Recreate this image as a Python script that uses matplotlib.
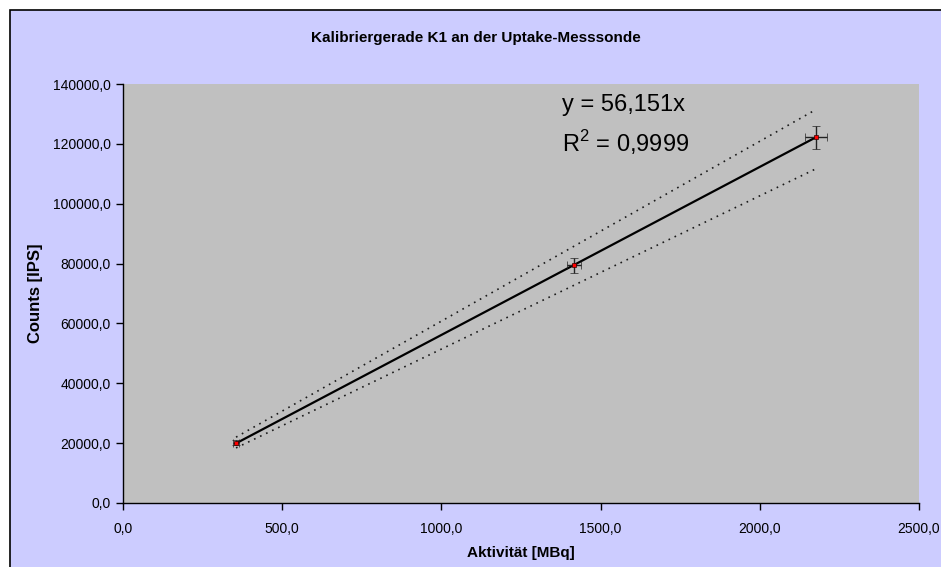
import numpy as np
import matplotlib.pyplot as plt
from matplotlib.patches import Rectangle

# Messwerte
aktivitaet = [355.0, 1416.0, 2177.0]        # MBq
counts = [20100.0, 79400.0, 122200.0]       # IPS
aktivitaet_err = [8.0, 22.0, 35.0]
counts_err = [800.0, 2500.0, 3800.0]

# Vertrauensband (gepunktet)
band_x = [355.0, 2177.0]
band_oben = [22000.0, 131500.0]
band_unten = [18400.0, 111700.0]

steigung = 56.151
gleichung = "y = 56,151x"
bestimmtheit = r"R$^2$ = 0,9999"
titel = "Kalibriergerade K1 an der Uptake-Messsonde"
xticks = [0, 500, 1000, 1500, 2000, 2500]
yticks = [0, 20000, 40000, 60000, 80000, 100000, 120000, 140000]


def fmt(v):
    return f"{v:.1f}".replace('.', ',')


def main():
    plt.rcParams['font.family'] = ['Liberation Sans', 'DejaVu Sans']
    plt.rcParams['mathtext.fontset'] = 'custom'
    plt.rcParams['mathtext.rm'] = 'Liberation Sans'
    fig = plt.figure(figsize=(9.41, 5.67), dpi=100, facecolor='white')

    # Diagrammfläche mit Rahmen
    fig.patches.append(Rectangle((10 / 941, -0.05), 1.1, (557 / 567) + 0.05,
                                 transform=fig.transFigure, facecolor='#CCCCFF',
                                 edgecolor='black', linewidth=1.2, zorder=-10))

    ax = fig.add_axes([123 / 941, 64 / 567, 796 / 941, 419 / 567])
    ax.set_facecolor('#C0C0C0')

    x = np.array(aktivitaet)
    xs = np.array([x.min(), x.max()])
    ax.plot(xs, steigung * xs, color='black', lw=1.6, zorder=3)
    ax.plot(band_x, band_oben, color='#1a1a1a', lw=1.2, ls=(0, (1, 3)), zorder=2)
    ax.plot(band_x, band_unten, color='#1a1a1a', lw=1.2, ls=(0, (1, 3)), zorder=2)

    ax.errorbar(aktivitaet, counts, xerr=aktivitaet_err, yerr=counts_err,
                fmt='s', ms=3, mfc='red', mec='#330000', mew=0.5,
                ecolor='#222222', elinewidth=1.0, capsize=3, capthick=1.0, zorder=4)

    ax.text(1380, 133000, gleichung, fontsize=17, va='center', ha='left')
    ax.text(1380, 120300, bestimmtheit, fontsize=17, va='center', ha='left')

    ax.set_xlim(0, 2500)
    ax.set_ylim(0, 140000)
    ax.set_xticks(xticks)
    ax.set_yticks(yticks)
    ax.set_xticklabels([fmt(v) for v in xticks], fontsize=10)
    ax.set_yticklabels([fmt(v) for v in yticks], fontsize=10)
    ax.tick_params(direction='out', length=5, width=1, pad=4)
    ax.tick_params(axis='x', pad=9)

    for s in ['top', 'right']:
        ax.spines[s].set_visible(False)
    for s in ['left', 'bottom']:
        ax.spines[s].set_color('black')
        ax.spines[s].set_linewidth(1)

    ax.set_xlabel("Aktivität [MBq]", fontsize=11, fontweight='bold', labelpad=7)
    ax.set_ylabel("Counts [IPS]", fontsize=12, fontweight='bold', labelpad=7)
    fig.text(476 / 941, 1 - 38 / 567, titel, fontsize=11, fontweight='bold',
             ha='center', va='center')

    fig.savefig('out.png', dpi=100, facecolor=fig.get_facecolor())
    plt.close(fig)


if __name__ == '__main__':
    main()
